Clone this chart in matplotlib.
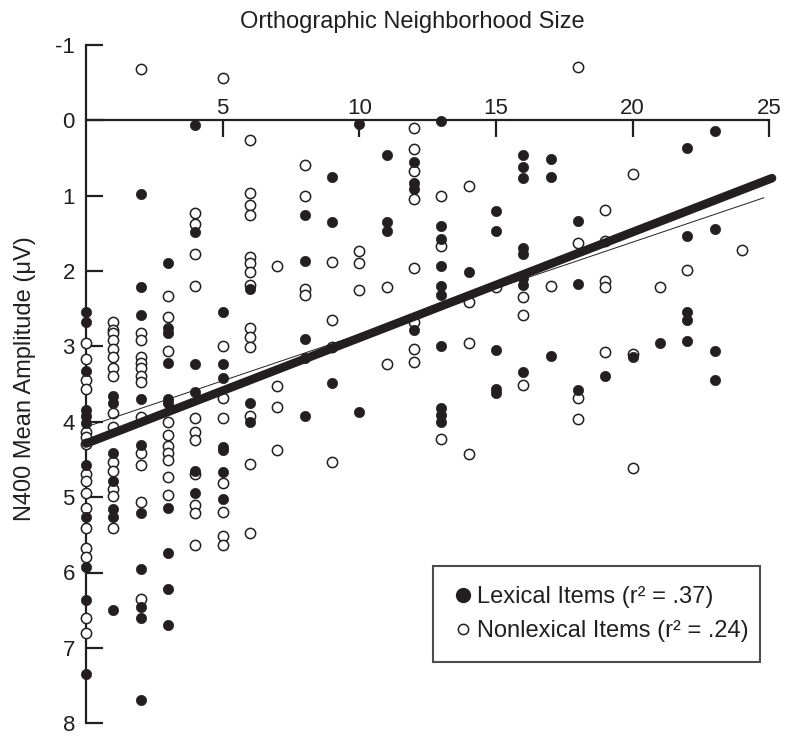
import matplotlib
matplotlib.use("Agg")
import matplotlib.pyplot as plt
from matplotlib.lines import Line2D

plt.rcParams["font.family"] = ["Liberation Sans", "DejaVu Sans"]
plt.rcParams["axes.unicode_minus"] = False

INK = "#231f20"

# N400 amplitude per item, grouped by orthographic neighborhood size (index = size)
lexical_amp = [
    [2.54, 2.68, 3.33, 3.84, 3.93, 4.02, 4.58, 5.26, 5.93, 6.36, 7.35],
    [3.66, 3.75, 4.42, 4.79, 5.16, 5.26, 6.50],
    [0.98, 2.22, 2.59, 3.70, 4.31, 5.21, 5.95, 6.46, 6.61, 7.69],
    [1.89, 2.76, 2.83, 3.22, 3.70, 3.75, 5.15, 5.74, 6.22, 6.70],
    [0.06, 1.49, 3.23, 3.60, 4.66, 4.95],
    [2.54, 3.23, 3.42, 4.33, 4.37, 4.67, 5.03],
    [2.24, 3.75, 4.01],
    [],
    [1.26, 1.87, 2.90, 3.16, 3.93],
    [0.75, 1.35, 3.49],
    [0.05, 3.87],
    [0.46, 1.35, 1.47],
    [0.55, 0.84, 0.91, 2.79],
    [0.01, 1.40, 1.58, 1.93, 2.20, 2.32, 2.99, 3.82, 3.91, 4.00],
    [2.02],
    [1.21, 1.47, 3.05, 3.57, 3.62],
    [0.46, 0.62, 0.77, 1.69, 1.77, 2.10, 2.19, 3.34],
    [0.52, 0.75, 3.13],
    [1.34, 2.18, 3.58],
    [3.40],
    [3.14],
    [2.95],
    [0.37, 1.54, 2.55, 2.65, 2.93],
    [0.15, 1.45, 3.06, 3.45],
]

nonlexical_amp = [
    [2.96, 3.17, 3.45, 3.57, 4.13, 4.20, 4.29, 4.70, 4.78, 4.95, 5.15, 5.41,
     5.67, 5.79, 6.61, 6.80],
    [2.68, 2.78, 2.83, 2.92, 3.03, 3.14, 3.29, 3.40, 3.88, 4.07, 4.54, 4.66,
     4.89, 4.99, 5.41],
    [-0.68, 2.83, 2.91, 3.14, 3.22, 3.29, 3.40, 3.47, 3.94, 4.42, 4.57, 5.06, 6.35],
    [2.33, 2.61, 3.06, 4.01, 4.18, 4.32, 4.42, 4.51, 4.73, 4.97],
    [1.23, 1.38, 1.78, 2.20, 3.95, 4.13, 4.24, 4.70, 5.10, 5.21, 5.63],
    [-0.56, 2.99, 3.69, 3.95, 4.81, 5.20, 5.52, 5.64],
    [0.26, 0.97, 1.12, 1.26, 1.82, 1.89, 2.02, 2.19, 2.76, 2.88, 3.01, 3.92,
     4.56, 5.48],
    [1.94, 3.53, 3.81, 4.37],
    [0.60, 1.00, 2.24, 2.32],
    [1.88, 2.65, 3.01, 4.54],
    [1.74, 1.89, 2.25],
    [2.22, 3.24],
    [0.10, 0.38, 0.68, 1.05, 1.96, 2.68, 3.03, 3.21],
    [1.01, 1.67, 4.23],
    [0.88, 2.41, 2.95, 4.43],
    [2.22],
    [2.35, 2.58, 3.51],
    [2.20],
    [-0.70, 1.63, 3.69, 3.96],
    [1.19, 1.60, 2.13, 2.21, 3.07],
    [0.72, 3.10, 4.61],
    [2.21],
    [1.99],
    [],
    [1.72],
]

# regression lines
lex_fit_x = [0, 25.1]
lex_fit_y = [4.29, 0.77]
nonlex_fit_x = [0, 24.8]
nonlex_fit_y = [4.07, 1.03]

x_ticks = [5, 10, 15, 20, 25]
y_ticks = [-1, 0, 1, 2, 3, 4, 5, 6, 7, 8]
y_ticklabels = ["-1", "0", "1", "2", "3", "4", "5", "6", "7", "8"]


def flatten(cols):
    xs, ys = [], []
    for size, vals in enumerate(cols):
        xs += [size] * len(vals)
        ys += vals
    return xs, ys


W, H = 787, 739
fig = plt.figure(figsize=(W / 100, H / 100), dpi=100)
left, right, top, bottom = 86, 769.3, 44.7, 723.3
ax = fig.add_axes([left / W, 1 - bottom / H, (right - left) / W, (bottom - top) / H])

lx, ly = flatten(lexical_amp)
nx, ny = flatten(nonlexical_amp)

ax.plot(nx, ny, "o", ms=7.4, mfc="white", mec=INK, mew=1.1, clip_on=False, zorder=3)
ax.plot(lx, ly, "o", ms=7.4, mfc=INK, mec=INK, mew=0.5, clip_on=False, zorder=3)

ax.plot(nonlex_fit_x, nonlex_fit_y, color=INK, lw=0.7, clip_on=False, zorder=4)
ax.plot(lex_fit_x, lex_fit_y, color=INK, lw=6.2, solid_capstyle="round",
        clip_on=False, zorder=5)

ax.set_xlim(0, 25)
ax.set_ylim(8, -1)

for s in ["right", "bottom"]:
    ax.spines[s].set_visible(False)
ax.spines["top"].set_position(("data", 0))
ax.spines["top"].set_color(INK)
ax.spines["left"].set_color(INK)
ax.spines["top"].set_linewidth(1.6)
ax.spines["left"].set_linewidth(1.6)
ax.spines["top"].set_zorder(2)

ax.xaxis.set_ticks_position("top")
ax.set_xticks(x_ticks)
ax.set_xticklabels([str(t) for t in x_ticks])
ax.tick_params(axis="x", direction="in", length=12, width=1.6, color=INK,
               labelsize=16, labelcolor=INK, pad=1)
ax.set_yticks(y_ticks)
ax.set_yticklabels(y_ticklabels)
ax.tick_params(axis="y", direction="in", length=12, width=1.6, color=INK,
               labelsize=16, labelcolor=INK, pad=8)

fig.text(412 / W, 1 - 22 / H, "Orthographic Neighborhood Size", ha="center",
         va="center", fontsize=17, color=INK)
fig.text(25 / W, 1 - 379 / H, "N400 Mean Amplitude (\u03bcV)", ha="center",
         va="center", rotation=90, fontsize=17, color=INK)

handles = [
    Line2D([], [], ls="none", marker="o", ms=10, mfc=INK, mec=INK),
    Line2D([], [], ls="none", marker="o", ms=7.4, mfc="white", mec=INK, mew=1.1),
]
labels = ["Lexical Items (r\u00b2 = .37)", "Nonlexical Items (r\u00b2 = .24)"]
leg = ax.legend(handles, labels, loc="upper left",
                bbox_to_anchor=(0.508, 0.2318, 0.478, 0.0), mode="expand",
                frameon=True, fancybox=False, fontsize=17, handlelength=0.8,
                handletextpad=0.2, labelspacing=0.5, borderpad=0.85,
                borderaxespad=0)
leg.get_frame().set_edgecolor(INK)
leg.get_frame().set_linewidth(1.5)
for t in leg.get_texts():
    t.set_color(INK)

fig.savefig("out.png", dpi=100)
